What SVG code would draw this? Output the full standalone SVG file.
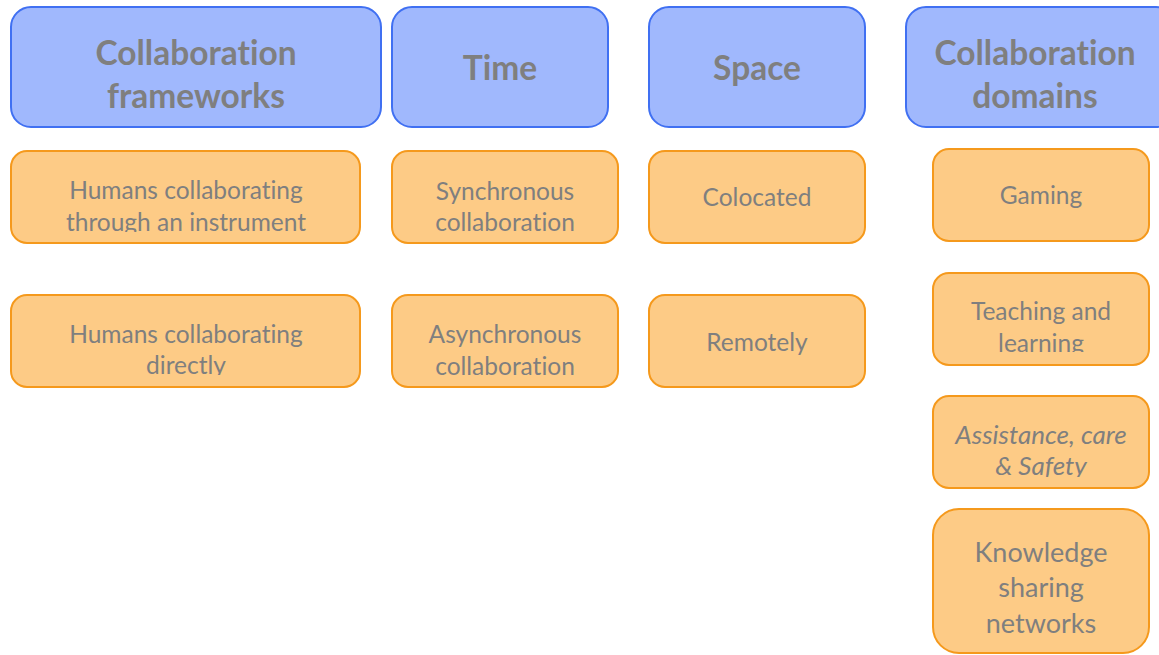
<svg xmlns="http://www.w3.org/2000/svg" width="1159" height="655" viewBox="0 0 1159 655">
  <style>
    .hdr rect { fill: #a0b8fd; stroke: #4070f2; stroke-width: 2; }
    .itm rect { fill: #fdcb86; stroke: #f5991c; stroke-width: 2; }
    text { font-family: Lato, "Liberation Sans", sans-serif; fill: #7f7f7f; text-anchor: middle;
           font-variant-ligatures: none; font-feature-settings: "liga" 0, "clig" 0; }
    .hdr text { font-size: 33.5px; font-weight: bold; }
    .itm text { font-size: 24.5px; }
    .itm text.big { font-size: 27px; }
    .itm text.it { font-style: italic; font-size: 26px; }
  </style>
  <defs>
    <clipPath id="clipFw1"><rect x="11" y="151" width="349" height="81"/></clipPath>
    <clipPath id="clipFw2"><rect x="11" y="295" width="349" height="80"/></clipPath>
    <clipPath id="clipTeach"><rect x="932" y="273" width="217" height="79"/></clipPath>
    <clipPath id="clipAssist"><rect x="932" y="396" width="217" height="81"/></clipPath>
  </defs>
  <rect width="1159" height="655" fill="#ffffff"/>

  <!-- headers -->
  <g id="hdr-frameworks" class="hdr">
    <rect x="11" y="7" width="370" height="120" rx="20"/>
    <text x="196" y="65">Collaboration</text>
    <text x="196" y="108">frameworks</text>
  </g>
  <g id="hdr-time" class="hdr">
    <rect x="392" y="7" width="216" height="120" rx="20"/>
    <text x="500" y="80">Time</text>
  </g>
  <g id="hdr-space" class="hdr">
    <rect x="649" y="7" width="216" height="120" rx="20"/>
    <text x="757" y="80">Space</text>
  </g>
  <g id="hdr-domains" class="hdr">
    <rect x="906" y="7" width="270" height="120" rx="20"/>
    <text x="1035" y="65">Collaboration</text>
    <text x="1035" y="108">domains</text>
  </g>

  <!-- frameworks column -->
  <g id="fw-instrument" class="itm">
    <rect x="11" y="151" width="349" height="92" rx="16"/>
    <g clip-path="url(#clipFw1)">
      <text x="186" y="199">Humans collaborating</text>
      <text x="186" y="231">through an instrument</text>
    </g>
  </g>
  <g id="fw-direct" class="itm">
    <rect x="11" y="295" width="349" height="92" rx="16"/>
    <g clip-path="url(#clipFw2)">
      <text x="186" y="343">Humans collaborating</text>
      <text x="186" y="374">directly</text>
    </g>
  </g>

  <!-- time column -->
  <g id="time-sync" class="itm">
    <rect x="392" y="151" width="226" height="92" rx="16"/>
    <text x="505" y="200">Synchronous</text>
    <text x="505" y="231">collaboration</text>
  </g>
  <g id="time-async" class="itm">
    <rect x="392" y="295" width="226" height="92" rx="16"/>
    <text x="505" y="343">Asynchronous</text>
    <text x="505" y="375">collaboration</text>
  </g>

  <!-- space column -->
  <g id="space-colocated" class="itm">
    <rect x="649" y="151" width="216" height="92" rx="16"/>
    <text x="757" y="206">Colocated</text>
  </g>
  <g id="space-remote" class="itm">
    <rect x="649" y="295" width="216" height="92" rx="16"/>
    <text x="757" y="351">Remotely</text>
  </g>

  <!-- domains column -->
  <g id="dom-gaming" class="itm">
    <rect x="933" y="149" width="216" height="92" rx="16"/>
    <text x="1041" y="204">Gaming</text>
  </g>
  <g id="dom-teaching" class="itm">
    <rect x="933" y="273" width="216" height="92" rx="16"/>
    <g clip-path="url(#clipTeach)">
      <text x="1041" y="320">Teaching and</text>
      <text x="1041" y="352">learning</text>
    </g>
  </g>
  <g id="dom-assistance" class="itm">
    <rect x="933" y="396" width="216" height="92" rx="16"/>
    <g clip-path="url(#clipAssist)">
      <text class="it" x="1041" y="444">Assistance, care</text>
      <text class="it" x="1041" y="475">&amp; Safety</text>
    </g>
  </g>
  <g id="dom-knowledge" class="itm">
    <rect x="933" y="509" width="216" height="144" rx="26"/>
    <text class="big" x="1041" y="562">Knowledge</text>
    <text class="big" x="1041" y="597">sharing</text>
    <text class="big" x="1041" y="633">networks</text>
  </g>
</svg>
